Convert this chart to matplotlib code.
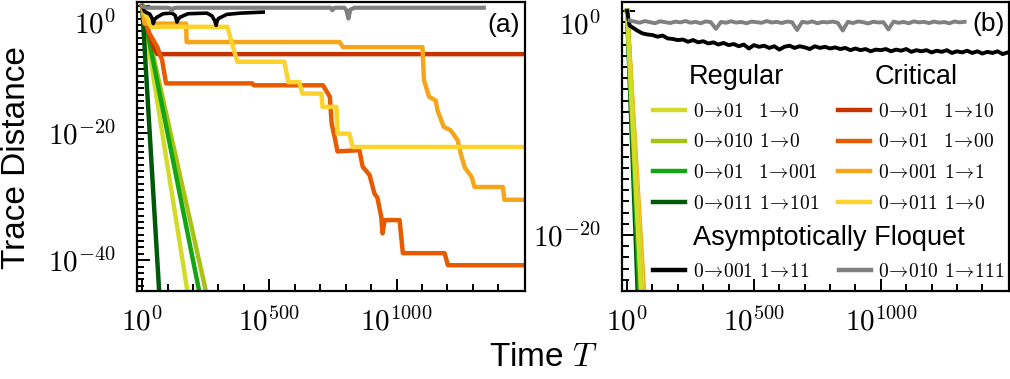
import numpy as np
from matplotlib import pyplot as plt
from matplotlib.ticker import FixedLocator, FixedFormatter, NullFormatter
from matplotlib.transforms import ScaledTranslation

plt.rcParams['font.family'] = ['Liberation Sans', 'DejaVu Sans']
plt.rcParams['mathtext.fontset'] = 'cm'

# every curve: x = log10(T), y = log10(trace distance)

# legend labels and colours
A = r'\!\rightarrow\!'
reg_labels = [r'$0' + A + r'01\hspace{0.9}1' + A + r'0$',
              r'$0' + A + r'010\hspace{0.4}1' + A + r'0$',
              r'$0' + A + r'01\hspace{0.9}1' + A + r'001$',
              r'$0' + A + r'011\hspace{0.4}1' + A + r'101$']
crit_labels = [r'$0' + A + r'01\hspace{0.9}1' + A + r'10$',
               r'$0' + A + r'01\hspace{0.9}1' + A + r'00$',
               r'$0' + A + r'001\hspace{0.4}1' + A + r'1$',
               r'$0' + A + r'011\hspace{0.4}1' + A + r'0$']
floq_labels = [r'$0' + A + r'001\hspace{0.4}1' + A + r'11$',
               r'$0' + A + r'010\hspace{0.4}1' + A + r'111$']
reg_colors = ['#d2dc28', '#a8c214', '#14a514', '#005a0a']
crit_colors = ['#c83200', '#e65a00', '#f5a51a', '#fcd22d']
floq_colors = ['#000000', '#808080']

# ---- panel (a) ----
a_reg_t = [[0, 200], [0, 280], [0, 250], [0, 75]]
a_reg_log = [[0, -50.4], [0, -50.1], [0, -50.0], [0, -50.2]]

a_c1_t = [0, 20, 45, 60, 1510]
a_c1_log = [0, -3.5, -6.5, -7.6, -7.6]
a_c2_t = [0, 28, 60, 79, 94, 433, 440, 711, 738, 745, 759, 768, 854, 867, 894,
          913, 925, 940, 945, 953, 1012, 1025, 1189, 1202, 1510]
a_c2_log = [0, -4.3, -6.5, -8.6, -12.2, -12.2, -12.5, -12.5, -14.3, -18.5, -21.1,
            -22.9, -22.7, -25.3, -26.6, -29.5, -30.2, -33.2, -35.8, -33.7, -33.7,
            -38.9, -38.9, -40.8, -40.8]
a_c3_t = [0, 10, 173, 175, 776, 790, 1102, 1108, 1128, 1154, 1161, 1185, 1213,
          1240, 1252, 1268, 1295, 1307, 1418, 1424, 1510]
a_c3_log = [0, -2.8, -2.8, -5.7, -5.7, -6.5, -6.5, -11.7, -14.3, -14.9, -16.4,
            -19.0, -19.6, -21.1, -23.2, -25.4, -26.9, -28.5, -28.5, -30.5, -30.5]
a_c4_t = [0, 35, 335, 374, 559, 575, 618, 630, 705, 709, 764, 768, 815, 827, 1510]
a_c4_log = [0, -3.3, -3.3, -8.8, -8.8, -12.0, -12.0, -13.8, -13.8, -15.9, -15.9,
            -20.1, -20.1, -22.2, -22.2]

a_black_t = [0, 10, 30, 40, 44, 48, 58, 83, 117, 130, 137, 142, 150, 181, 255,
             275, 285, 291, 295, 300, 333, 386, 476]
a_black_log = [0, -0.9, -1.3, -2.0, -2.8, -2.2, -1.8, -1.24, -1.15, -1.5, -2.56,
               -2.1, -1.77, -1.24, -1.15, -1.6, -2.3, -3.08, -2.4, -2.0, -1.35,
               -1.15, -0.99]
a_gray_t = [0, 20, 100, 110, 117, 122, 135, 740, 748, 752, 760, 795, 803, 811,
            818, 835, 1343]
a_gray_log = [-0.1, -0.3, -0.3, -0.4, -0.72, -0.4, -0.3, -0.3, -0.7, -0.4, -0.3,
              -0.3, -0.7, -2.0, -0.6, -0.3, -0.3]

# ---- panel (b) ----
b_reg_t = [[0, 66], [0, 68], [0, 58], [0, 50]]
b_reg_log = [[0, -30], [0, -30], [0, -30], [0, -30]]
b_crit_t = [[0, 70], [0, 72], [0, 80], [0, 74]]
b_crit_log = [[0, -30], [0, -30], [0, -30], [0, -30]]

b_black_t = [0, 10] + list(range(20, 1501, 20))
b_black_log = [0.0, -1.3,
               -1.45, -1.75, -2.0, -2.1, -2.15, -2.3, -2.2, -2.45, -2.5, -2.6,
               -2.55, -2.75, -2.6, -2.8, -2.7, -2.9, -2.8, -3.0, -2.85, -3.05,
               -2.95, -3.15, -3.0, -3.35, -3.05, -3.2, -3.1, -3.3, -3.15, -3.45,
               -3.2, -3.1, -3.3, -3.15, -3.25, -3.4, -3.15, -3.3, -3.2, -3.35,
               -3.25, -3.4, -3.3, -3.5, -3.35, -3.5, -3.4, -3.6, -3.45, -3.5,
               -3.4, -3.6, -3.45, -3.55, -3.4, -3.65, -3.5, -3.6, -3.5, -3.7,
               -3.55, -3.65, -3.5, -3.75, -3.6, -3.7, -3.55, -3.75, -3.6, -3.8,
               -3.65, -3.75, -3.6, -3.85, -3.7]
b_gray_t = list(range(10, 1341, 20))
b_gray_log = [-0.85, -0.95, -1.05, -0.9, -1.0, -1.1, -0.92, -1.0, -1.08, -0.95,
              -1.02, -0.9, -1.05, -0.97, -1.1, -0.93, -1.0, -1.6, -0.98, -1.05,
              -0.92, -1.04, -0.98, -1.1, -0.95, -1.0, -1.06, -0.9, -1.03, -0.97,
              -1.08, -0.95, -1.0, -1.7, -0.96, -1.05, -0.93, -1.1, -0.98, -1.02,
              -0.95, -1.05, -1.75, -0.97, -1.08, -0.94, -1.0, -1.12, -0.96, -1.03,
              -1.0, -1.65, -0.95, -1.06, -0.98, -1.1, -0.93, -1.02, -0.97, -1.08,
              -0.95, -1.04, -0.99, -1.1, -0.94, -1.02, -0.97]

fig = plt.figure(figsize=(10.1, 3.79), dpi=100)
ax_a = fig.add_axes([137 / 1010, 88 / 379, 388 / 1010, 289 / 379])
ax_b = fig.add_axes([622 / 1010, 88 / 379, 387 / 1010, 289 / 379])

lw = 3.2


def pw(v):
    return np.power(10.0, v)


# panel (a)
reg_lines = []
for t, v, c in zip(a_reg_t, a_reg_log, reg_colors):
    reg_lines.append(ax_a.plot(t, pw(v), color=c, lw=lw)[0])
crit_lines = []
for t, v, c in zip([a_c1_t, a_c2_t, a_c3_t, a_c4_t],
                   [a_c1_log, a_c2_log, a_c3_log, a_c4_log], crit_colors):
    crit_lines.append(ax_a.plot(t, pw(v), color=c, lw=lw)[0])
ax_a.plot(a_black_t, pw(a_black_log), color=floq_colors[0], lw=2.6)
ax_a.plot(a_gray_t, pw(a_gray_log), color=floq_colors[1], lw=3.0)

# panel (b)
for t, v, c in zip(b_crit_t, b_crit_log, crit_colors):
    ax_b.plot(t, pw(v), color=c, lw=lw)
for t, v, c in list(zip(b_reg_t, b_reg_log, reg_colors))[::-1]:
    ax_b.plot(t, pw(v), color=c, lw=lw)
floq_lines = [ax_b.plot(b_black_t, pw(b_black_log), color=floq_colors[0], lw=2.8)[0],
              ax_b.plot(b_gray_t, pw(b_gray_log), color=floq_colors[1], lw=2.8)[0]]

ylims = {ax_a: (pw(-44.85), pw(0.6)), ax_b: (pw(-25.0), pw(0.8))}
shift = {ax_a: 11.5, ax_b: 8.5}
for ax in (ax_a, ax_b):
    ax.set_yscale('log')
    ax.set_xlim(-20, 1505)
    ax.set_ylim(*ylims[ax])
    ax.xaxis.set_major_locator(FixedLocator([0, 500, 1000]))
    ax.xaxis.set_major_formatter(FixedFormatter([r'$10^{0}$', r'$10^{500}$', r'$10^{1000}$']))
    ax.xaxis.set_minor_locator(FixedLocator([100, 200, 300, 400, 600, 700, 800, 900,
                                             1100, 1200, 1300, 1400]))
    ax.yaxis.set_major_locator(FixedLocator([1e0, 1e-20, 1e-40]))
    ax.yaxis.set_major_formatter(FixedFormatter([r'$10^{0}$', r'$10^{-20}$', r'$10^{-40}$']))
    ax.yaxis.set_minor_locator(FixedLocator([10.0 ** k for k in range(-50, 2)]))
    ax.yaxis.set_minor_formatter(NullFormatter())
    ax.tick_params(which='both', direction='in', width=1.4, labelsize=21,
                   top=False, right=False)
    ax.tick_params(which='major', length=9)
    ax.tick_params(which='minor', length=5)
    ax.tick_params(axis='x', which='both', pad=12)
    ax.tick_params(axis='y', which='both', pad=15)
    for s in ax.spines.values():
        s.set_linewidth(1.6)
    top = ax.get_yticklabels()[0]
    top.set_transform(top.get_transform() +
                      ScaledTranslation(0, -shift[ax] / 72, fig.dpi_scale_trans))

ax_a.text(0.987, 0.92, '(a)', transform=ax_a.transAxes, ha='right', va='center', fontsize=19)
ax_b.text(0.99, 0.925, '(b)', transform=ax_b.transAxes, ha='right', va='center', fontsize=19)

fig.text(17 / 1010, 1 - 158 / 379, 'Trace Distance', rotation=90, ha='center',
         va='center', fontsize=24)
fig.text(543 / 1010, 1 - 357 / 379, r'Time $T$', ha='center', va='center', fontsize=24)

# legends in panel (b)
lkw = dict(frameon=False, fontsize=14, borderpad=0, borderaxespad=0, handlelength=1.65,
           handletextpad=0.4, labelspacing=0.65, loc='upper left')
tprop = {'family': ['Liberation Sans', 'DejaVu Sans'], 'size': 19.5}
leg1 = ax_b.legend(reg_lines, reg_labels, title='Regular', title_fontproperties=tprop,
                   bbox_to_anchor=(0.080, 0.785), **lkw)
ax_b.add_artist(leg1)
leg2 = ax_b.legend(crit_lines, crit_labels, title='Critical', title_fontproperties=tprop,
                   bbox_to_anchor=(0.558, 0.785), **lkw)
ax_b.add_artist(leg2)
leg3 = ax_b.legend(floq_lines, floq_labels, title='Asymptotically Floquet',
                   title_fontproperties=tprop, ncol=2, columnspacing=1.5,
                   bbox_to_anchor=(0.080, 0.23), **lkw)
for lg in (leg1, leg2, leg3):
    for h in lg.legend_handles:
        h.set_linewidth(3.2)

fig.savefig('out.png', dpi=100)
